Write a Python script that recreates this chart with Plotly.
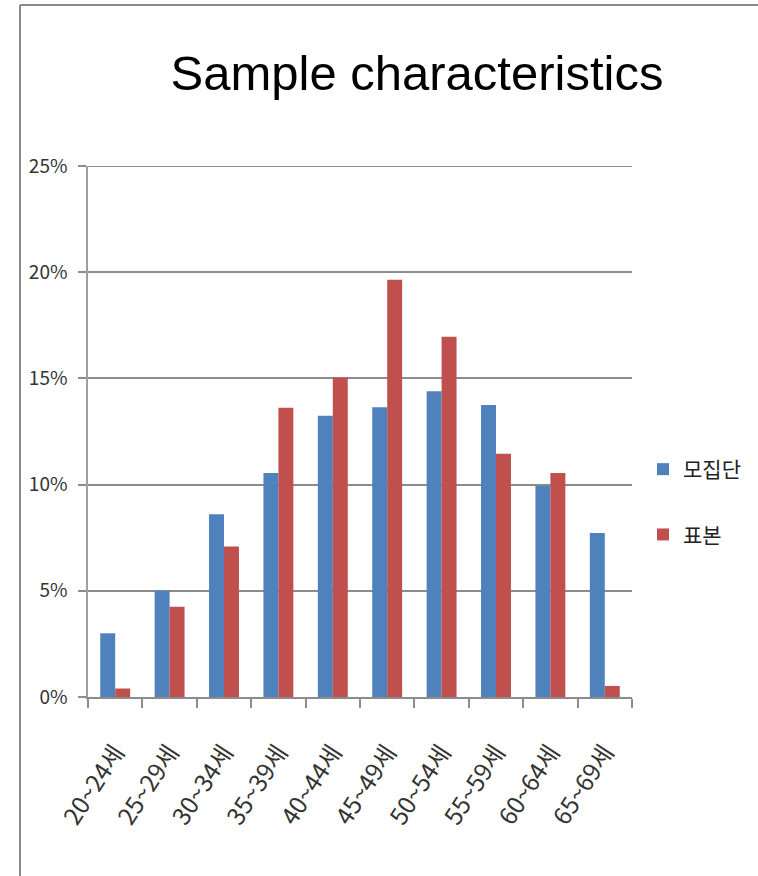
import plotly.graph_objects as go

categories = ["20~24세", "25~29세", "30~34세", "35~39세", "40~44세",
              "45~49세", "50~54세", "55~59세", "60~64세", "65~69세"]
population = [0.030, 0.050, 0.086, 0.1055, 0.1324, 0.1364, 0.1439, 0.1375, 0.0994, 0.0772]
sample = [0.004, 0.0425, 0.0709, 0.1362, 0.1504, 0.1965, 0.1696, 0.1145, 0.1055, 0.0052]
series_names = ["모집단", "표본"]
y_ticks = [0, 0.05, 0.10, 0.15, 0.20, 0.25]
y_tick_labels = ["0%", "5%", "10%", "15%", "20%", "25%"]

W, H = 758, 876
ML, MR, MT, MB = 88, 126, 166, 179
PW, PH = W - ML - MR, H - MT - MB

def px_x(p):
    return (p - ML) / PW

def px_y(p):
    return (H - MB - p) / PH

fig = go.Figure()
fig.add_trace(go.Bar(x=categories, y=population, name=series_names[0],
                     marker=dict(color="#4F81BD", line=dict(width=0)),
                     legendgroup="a"))
fig.add_trace(go.Bar(x=categories, y=sample, name=series_names[1],
                     marker=dict(color="#C0504D", line=dict(width=0)),
                     legendgroup="b"))

cjk = "Noto Sans CJK KR"
grid_col = "#8c8c8c"
fig.update_layout(
    width=W, height=H,
    margin=dict(l=ML, r=MR, t=MT, b=MB, autoexpand=False),
    paper_bgcolor="white", plot_bgcolor="white",
    barmode="group", bargap=0.45, bargroupgap=0,
    title=dict(text="Sample characteristics", x=px_x(417), xref="paper",
               xanchor="center", y=1 - 73 / H, yanchor="middle",
               font=dict(family="Liberation Sans, Arial", size=49, color="black")),
    legend=dict(x=px_x(643), y=px_y(502), xanchor="left", yanchor="middle",
                font=dict(family=cjk, size=21, color="#222"),
                tracegroupgap=35, bgcolor="rgba(0,0,0,0)"),
    showlegend=True,
    xaxis=dict(type="category", tickangle=-57, tickson="boundaries",
               ticks="outside", ticklen=9, tickcolor=grid_col, tickwidth=1.5,
               showline=True, linecolor=grid_col, linewidth=2,
               tickfont=dict(family=cjk, size=24, color="#333"),
               showgrid=False, ticklabelstandoff=30),
    yaxis=dict(range=[0, 0.25], tickvals=y_ticks, ticktext=y_tick_labels,
               ticks="outside", ticklen=8, tickcolor=grid_col, tickwidth=2,
               showline=True, linecolor="#a0a0a0", linewidth=1.5,
               showgrid=True, gridcolor=grid_col, gridwidth=2,
               zeroline=False,
               tickfont=dict(family=cjk, size=19, color="#333"),
               ticklabelstandoff=7),
    shapes=[
        dict(type="line", xref="paper", yref="y", x0=0, x1=1,
             y0=0.25, y1=0.25, line=dict(color=grid_col, width=2), layer="below"),
        dict(type="line", xref="paper", yref="paper", x0=px_x(20), x1=px_x(758),
             y0=px_y(5), y1=px_y(5), line=dict(color="#8a8a8a", width=2)),
        dict(type="line", xref="paper", yref="paper", x0=px_x(20), x1=px_x(20),
             y0=px_y(5), y1=px_y(876), line=dict(color="#8a8a8a", width=2)),
    ],
)

fig.write_html("out.html", config={"displayModeBar": False},
               post_script="document.body.style.margin='0';")
